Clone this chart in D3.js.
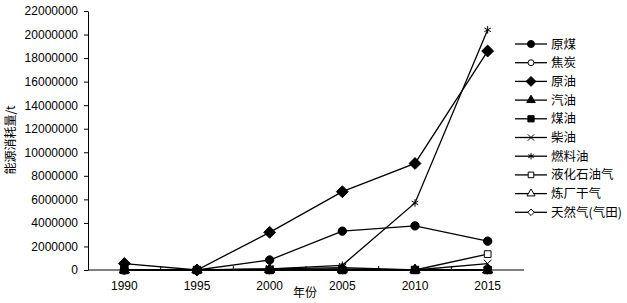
<!DOCTYPE html>
<html>
<head>
<meta charset="utf-8">
<script src="https://cdn.jsdelivr.net/npm/d3@7"></script>
<style>
  body { margin: 0; background: #fff; }
  text { fill: #000; }
</style>
</head>
<body>
<div id="chart"></div>
<script>
// Categories and series values (t)
var years = ["1990", "1995", "2000", "2005", "2010", "2015"];
var seriesNames = ["原煤", "焦炭", "原油", "汽油", "煤油", "柴油", "燃料油", "液化石油气", "炼厂干气", "天然气(气田)"];
var yuanmei   = [0, 0, 850000, 3300000, 3750000, 2450000];
var jiaotan   = [0, 0, 0, 0, 0, 0];
var yuanyou   = [550000, 0, 3200000, 6650000, 9050000, 18600000];
var qiyou     = [0, 0, 50000, 100000, 0, 0];
var meiyou    = [0, 0, 0, 0, 0, 0];
var chaiyou   = [0, 0, 100000, 200000, 0, 550000];
var ranliaoyou = [0, 0, 100000, 400000, 5700000, 20400000];
var yehuaqi   = [0, 0, 0, 0, 0, 1350000];
var lianchang = [0, 0, 0, 0, 0, 0];
var tianranqi = [0, 0, 0, 0, 0, 0];
var yTicks = [0, 2000000, 4000000, 6000000, 8000000, 10000000, 12000000, 14000000, 16000000, 18000000, 20000000, 22000000];

var allValues = [yuanmei, jiaotan, yuanyou, qiyou, meiyou, chaiyou, ranliaoyou, yehuaqi, lianchang, tianranqi];

// square-shaped diamond (d3's own diamond is tall)
var squareDiamond = {
  draw: function (context, size) {
    var r = Math.sqrt(size / 2);
    context.moveTo(0, -r);
    context.lineTo(r, 0);
    context.lineTo(0, r);
    context.lineTo(-r, 0);
    context.closePath();
  }
};

// marker styling per series
var markers = [
  { type: d3.symbolCircle, size: 55, fill: "#000" },
  { type: d3.symbolCircle, size: 40, fill: "#fff" },
  { type: squareDiamond, size: 70, fill: "#000" },
  { type: d3.symbolTriangle, size: 45, fill: "#000" },
  { type: d3.symbolSquare, size: 55, fill: "#000" },
  { type: d3.symbolX, size: 40, fill: "none" },
  { type: d3.symbolAsterisk, size: 40, fill: "none" },
  { type: d3.symbolSquare, size: 45, fill: "#fff" },
  { type: d3.symbolTriangle, size: 40, fill: "#fff" },
  { type: squareDiamond, size: 30, fill: "#fff" }
];

var svgWidth = 627;
var svgHeight = 303;

var margin = { top: 11, right: 103, bottom: 33, left: 88 };
var chartWidth = svgWidth - margin.left - margin.right;
var chartHeight = svgHeight - margin.top - margin.bottom;

var svg = d3.select("#chart")
  .append("svg")
  .attr("width", svgWidth)
  .attr("height", svgHeight);

var chartGroup = svg.append("g")
  .attr("transform", `translate(${margin.left}, ${margin.top})`);

var xBandScale = d3.scaleBand()
  .domain(years)
  .range([0, chartWidth]);

var yLinearScale = d3.scaleLinear()
  .domain([0, 22000000])
  .range([chartHeight, 0]);

// y axis
var leftAxis = d3.axisLeft(yLinearScale)
  .tickValues(yTicks)
  .tickFormat(d3.format("d"))
  .tickSize(4)
  .tickSizeOuter(0)
  .tickPadding(6);

var yAxisG = chartGroup.append("g").call(leftAxis);
yAxisG.selectAll("text")
  .style("font-family", "'Liberation Sans', Arial, sans-serif")
  .style("font-size", "12px");
yAxisG.select(".domain").attr("stroke", "#000");

// x axis with ticks between categories
var xAxisG = chartGroup.append("g")
  .attr("transform", `translate(0, ${chartHeight})`);
xAxisG.append("line")
  .attr("x1", 0).attr("x2", chartWidth)
  .attr("stroke", "#000");
xAxisG.selectAll(".tk")
  .data(years.slice(1))
  .enter().append("line")
  .attr("x1", d => xBandScale(d))
  .attr("x2", d => xBandScale(d))
  .attr("y1", 0).attr("y2", -4)
  .attr("stroke", "#000");
xAxisG.selectAll(".lbl")
  .data(years)
  .enter().append("text")
  .attr("x", d => xBandScale(d) + xBandScale.bandwidth() / 2)
  .attr("y", 20)
  .attr("text-anchor", "middle")
  .style("font-family", "'Liberation Sans', Arial, sans-serif")
  .style("font-size", "12px")
  .text(d => d);

// axis titles
svg.append("text")
  .attr("x", 305)
  .attr("y", 297)
  .attr("text-anchor", "middle")
  .style("font-family", "'Noto Sans CJK SC', sans-serif")
  .style("font-size", "12px")
  .text("年份");

svg.append("text")
  .attr("transform", "translate(15, 140) rotate(-90)")
  .attr("text-anchor", "middle")
  .style("font-family", "'Noto Sans CJK SC', sans-serif")
  .style("font-size", "12px")
  .text("能源消耗量/t");

// lines and markers
var line = d3.line()
  .x((d, i) => xBandScale(years[i]) + xBandScale.bandwidth() / 2)
  .y(d => yLinearScale(d));

allValues.forEach(function (vals) {
  chartGroup.append("path")
    .datum(vals)
    .attr("fill", "none")
    .attr("stroke", "#000")
    .attr("stroke-width", 1.3)
    .attr("d", line);
});

// open markers first so the filled ones sit on top at the zero line
var drawOrder = d3.range(allValues.length).sort((a, b) =>
  (markers[a].fill === "#000" ? 1 : 0) - (markers[b].fill === "#000" ? 1 : 0) || a - b);

drawOrder.forEach(function (s) {
  var m = markers[s];
  chartGroup.selectAll(".m" + s)
    .data(allValues[s])
    .enter().append("path")
    .attr("transform", (d, i) => `translate(${xBandScale(years[i]) + xBandScale.bandwidth() / 2}, ${yLinearScale(d)})`)
    .attr("d", d3.symbol().type(m.type).size(m.size))
    .attr("fill", m.fill)
    .attr("stroke", "#000")
    .attr("stroke-width", 1);
});

// legend
var legend = svg.append("g").attr("transform", "translate(515, 44)");
seriesNames.forEach(function (name, s) {
  var row = legend.append("g").attr("transform", `translate(0, ${s * 18.7})`);
  row.append("line")
    .attr("x1", 0).attr("x2", 32)
    .attr("stroke", "#000").attr("stroke-width", 1.3);
  var m = markers[s];
  row.append("path")
    .attr("transform", "translate(16, 0)")
    .attr("d", d3.symbol().type(m.type).size(m.size * 0.7))
    .attr("fill", m.fill)
    .attr("stroke", "#000");
  row.append("text")
    .attr("x", 36)
    .attr("y", 4.5)
    .style("font-family", "'Noto Sans CJK SC', sans-serif")
    .style("font-size", "12.5px")
    .text(name);
});
</script>
</body>
</html>
